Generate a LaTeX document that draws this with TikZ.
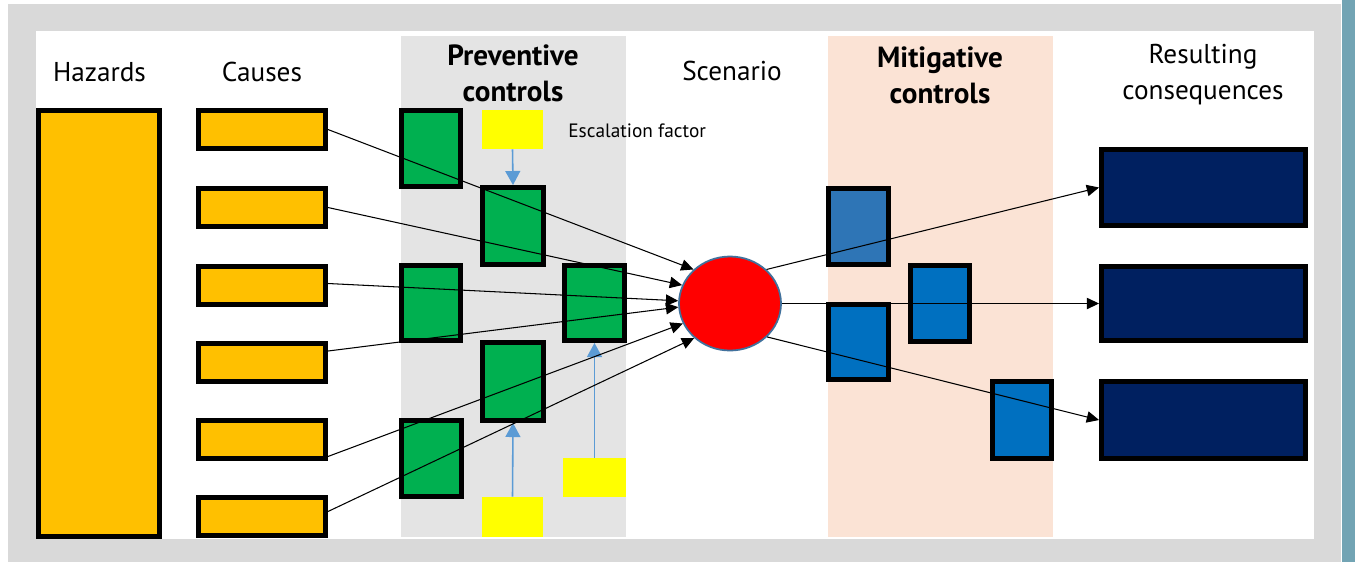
\documentclass[tikz,border=0pt]{standalone}
\usepackage{fontspec}
\setmainfont{PT Sans}
\usetikzlibrary{fit,arrows.meta,shapes.geometric}

\definecolor{frame}{HTML}{D9D9D9}
\definecolor{stripe}{HTML}{72A4B4}
\definecolor{prevpanel}{HTML}{E4E4E4}
\definecolor{mitpanel}{HTML}{FBE3D5}
\definecolor{hazard}{HTML}{FFC000}
\definecolor{prevgreen}{HTML}{00B050}
\definecolor{escyellow}{HTML}{FFFF00}
\definecolor{mitblueA}{HTML}{2E75B6}
\definecolor{mitblue}{HTML}{0070C0}
\definecolor{conseq}{HTML}{002060}
\definecolor{event}{HTML}{FF0000}
\definecolor{eventrim}{HTML}{41719C}
\definecolor{escblue}{HTML}{5B9BD5}

\begin{document}
\begin{tikzpicture}[x=0.02cm,y=-0.02cm,
  box/.style={draw=black, line width=2.8pt, inner sep=0pt, line join=miter},
  hazbox/.style={box, fill=hazard},
  causebox/.style={box, fill=hazard},
  prevbox/.style={box, fill=prevgreen},
  mitbox/.style={box, fill=mitblue},
  consbox/.style={box, fill=conseq},
  escbox/.style={fill=escyellow, inner sep=0pt},
  flow/.style={draw=black, line width=0.6pt, -{Triangle[length=7pt,width=6.5pt]}},
  escarrow/.style={draw=escblue, line width=0.9pt, -{Triangle[length=8pt,width=8.5pt]}},
  head/.style={font=\fontsize{15.5}{20.3}\selectfont, align=center, inner sep=0pt},
  boldhead/.style={head, font=\fontsize{16.6}{20.3}\selectfont\bfseries},
]
\useasboundingbox (0,0) rectangle (1355,562);

% frame, inner sheet and column panels
\fill[frame] (8,4) rectangle (1341,562);
\fill[stripe] (1342,0) rectangle (1355,562);
\fill[white] (36,31) rectangle (1314,539);
\fill[prevpanel] (401,36) rectangle (626,537);
\fill[mitpanel] (828,36) rectangle (1053,537);

% column headings
\node[head, anchor=base] (tHaz) at (99.5,81) {Hazards};
\node[head, anchor=base] (tCause) at (262,81) {Causes};
\node[boldhead] (tPrev) at (513,73.5) {Preventive\\controls};
\node[head, anchor=base] (tScen) at (732,80) {Scenario};
\node[boldhead] (tMit) at (940,75) {Mitigative\\controls};
\node[head] (tRes) at (1203,74.5) {Resulting\\consequences};
\node[font=\fontsize{11}{13}\selectfont, anchor=base west, inner sep=0pt] (tEsc) at (568,137) {Escalation factor};

% hazards and causes
\node[hazbox, fit={(38.5,110.5) (159.5,536.5)}] (hz) {};
\foreach \i/\t in {1/108,2/186,3/264,4/341,5/418,6/495}
  \node[causebox, fit={(198.5,\t+2.5) (325.5,\t+40.5)}] (c\i) {};

% preventive controls
\node[prevbox, fit={(401.5,110.5) (460.5,186.5)}] (g1) {};
\node[prevbox, fit={(482.5,187.5) (543.5,264.5)}] (g2) {};
\node[prevbox, fit={(401.5,265.5) (460.5,340.5)}] (g3) {};
\node[prevbox, fit={(564.5,265.5) (624.5,340.5)}] (g4) {};
\node[prevbox, fit={(482.5,342.5) (543.5,420.5)}] (g5) {};
\node[prevbox, fit={(401.5,420.5) (461.5,496.5)}] (g6) {};

% escalation factors
\node[escbox, fit={(482,110) (543,149)}] (y1) {};
\node[escbox, fit={(482,497) (543,537)}] (y2) {};
\node[escbox, fit={(563,458) (626,497)}] (y3) {};

% top event
\node[ellipse, draw=eventrim, line width=1pt, fill=event, inner sep=0pt,
      minimum width=102*0.02cm, minimum height=94*0.02cm] (ev) at (730,303.5) {};

% mitigative controls
\node[box, fill=mitblueA, fit={(828.5,188.5) (888.5,264.5)}] (b1) {};
\node[mitbox, fit={(910.5,265.5) (969.5,341.5)}] (b2) {};
\node[mitbox, fit={(828.5,304.5) (888.5,379.5)}] (b3) {};
\node[mitbox, fit={(992.5,381.5) (1051.5,458.5)}] (b4) {};

% consequences
\node[consbox, fit={(1101.5,149.5) (1305.5,225.5)}] (k1) {};
\node[consbox, fit={(1101.5,266.5) (1305.5,340.5)}] (k2) {};
\node[consbox, fit={(1101.5,381.5) (1305.5,458.5)}] (k3) {};

% escalation arrows
\draw[escarrow] (y1.south) -- (g2.north);
\draw[escarrow] (y2.north) -- (g5.south);
\draw[escarrow] (y3.north) -- (g4.south);

% causes into the top event
\draw[flow] (c1.east) -- (ev.137);
\draw[flow] (c2.east) -- (ev.159);
\draw[flow] ([yshift=0.04cm]c3.east) -- (ev.177);
\draw[flow] ([yshift=0.23cm]c4.east) -- (ev.184);
\draw[flow] ([yshift=-0.34cm]c5.east) -- (ev.203);
\draw[flow] ([yshift=0.1cm]c6.east) -- (ev.224);

% top event out to consequences
\draw[flow] (ev.43) -- (k1.west);
\draw[flow] (ev.0) -- (k2.west);
\draw[flow] (ev.-42) -- (k3.west);
\end{tikzpicture}
\end{document}
